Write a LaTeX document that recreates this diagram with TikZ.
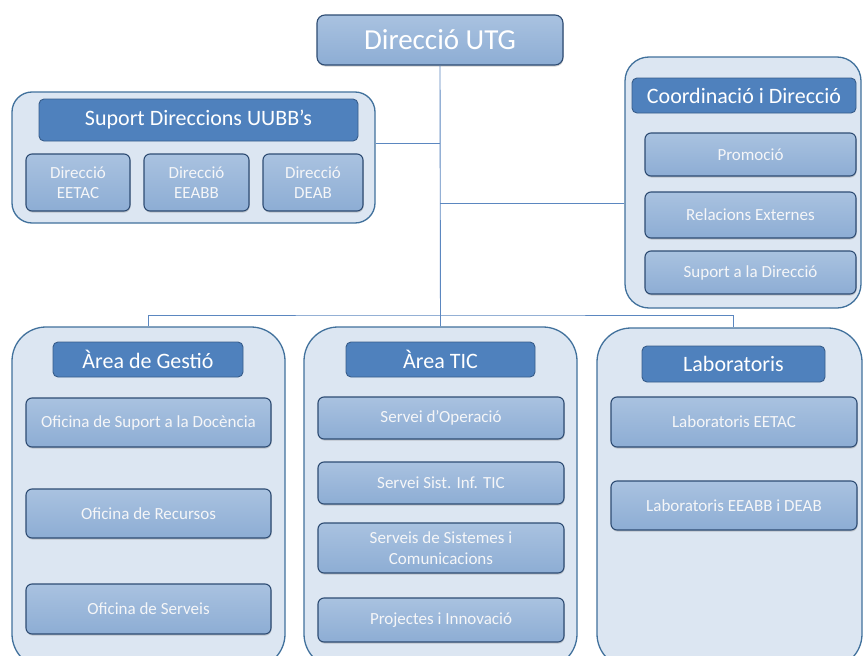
\documentclass[tikz,border=0pt]{standalone}
\usepackage{fontspec}
\setmainfont{Carlito}
\usepackage{tikz}
\usetikzlibrary{positioning,shadows}

\definecolor{groupfill}{HTML}{DCE6F2}
\definecolor{groupline}{HTML}{41719C}
\definecolor{headfill}{HTML}{4F81BD}
\definecolor{headline}{HTML}{385D8A}
\definecolor{unittop}{HTML}{A9C2E0}
\definecolor{unitbot}{HTML}{8DADD4}
\definecolor{unitline}{HTML}{2E4C73}
\definecolor{linkc}{HTML}{5B87C0}

\begin{document}
\begin{tikzpicture}[x=1pt,y=-1pt,
                    group/.style={draw=groupline, fill=groupfill, line width=1.3pt, inner sep=0pt},
                    header/.style={draw=headline, fill=headfill, line width=0.9pt, rounded corners=5pt,
                                   text=white, inner sep=0pt, font=\fontsize{22}{26}\selectfont},
                    unit/.style={draw=unitline, line width=1.1pt, top color=unittop, bottom color=unitbot,
                                 rounded corners=6pt, text=white!95!unitline, inner sep=0pt, align=center,
                                 drop shadow={opacity=0.35, shadow xshift=0.5pt, shadow yshift=-1.5pt},
                                 font=\fontsize{17}{20.5}\selectfont},
                    link/.style={draw=linkc, line width=0.9pt},
                   ]

\useasboundingbox (0,0) rectangle (863,656);
\fill[white] (0,0) rectangle (863,656);
\clip (0,0) rectangle (863,656);

% top
\node[unit, rounded corners=8pt, minimum width=246pt, minimum height=50pt, text=white,
      font=\fontsize{29}{33}\selectfont] (utg) at (440,40) {Direcció UTG};

% support of the schools
\node[group, rounded corners=20pt, minimum width=363pt, minimum height=131pt] (suport) at (193.5,157.5) {};
\node[header, minimum width=319pt, minimum height=42pt] (suporthd) at (198.5,120) {Suport Direccions UUBB’s};
\node[unit, minimum width=104pt, minimum height=57pt] (eetac) at (78,182.5) {Direcció\\EETAC};
\node[unit, minimum width=105pt, minimum height=57pt] (eeabb) at (196.5,182.5) {Direcció\\EEABB};
\node[unit, minimum width=100pt, minimum height=57pt] (deab) at (313,182.5) {Direcció\\DEAB};

% coordination
\node[group, rounded corners=24pt, minimum width=236pt, minimum height=251pt] (coord) at (743,182.5) {};
\node[header, minimum width=224pt, minimum height=35pt] (coordhd) at (744,95.5) {Coordinació i Direcció};
\node[unit, minimum width=211pt, minimum height=43pt] (promo) at (750.5,154.5) {Promoció};
\node[unit, minimum width=211pt, minimum height=46pt] (relac) at (750.5,215) {Relacions Externes};
\node[unit, minimum width=211pt, minimum height=43pt] (supdir) at (750.5,272.5) {Suport a la Direcció};

% areas
\node[group, rounded corners=34pt, minimum width=273pt, minimum height=341pt] (gestio) at (148.5,497.5) {};
\node[header, minimum width=190pt, minimum height=35pt] (gestiohd) at (148,359.5) {Àrea de Gestió};
\node[unit, minimum width=245pt, minimum height=49pt] (docencia) at (148.5,422.5) {Oficina de Suport a la Docència};
\node[unit, minimum width=245pt, minimum height=49pt] (recursos) at (148.5,513.5) {Oficina de Recursos};
\node[unit, minimum width=245pt, minimum height=50pt] (serveis) at (148.5,609) {Oficina de Serveis};

\node[group, rounded corners=34pt, minimum width=273pt, minimum height=341pt] (tic) at (440.5,497.5) {};
\node[header, minimum width=189pt, minimum height=35pt] (tichd) at (440.5,359.5) {Àrea TIC};
\node[unit, minimum width=246pt, minimum height=42pt] (operacio) at (441,418) {Servei d’Operació};
\node[unit, minimum width=246pt, minimum height=42pt] (sistinf) at (441,483) {Servei Sist. Inf. TIC};
\node[unit, minimum width=246pt, minimum height=50pt] (sistcom) at (441,548) {Serveis de Sistemes i\\Comunicacions};
\node[unit, minimum width=246pt, minimum height=44pt] (innova) at (441,620) {Projectes i Innovació};

\node[group, rounded corners=34pt, minimum width=265pt, minimum height=340pt] (lab) at (729.5,498) {};
\node[header, minimum width=183pt, minimum height=36pt] (labhd) at (733.5,364) {Laboratoris};
\node[unit, minimum width=246pt, minimum height=50pt] (labeetac) at (734,422) {Laboratoris EETAC};
\node[unit, minimum width=246pt, minimum height=49pt] (labeeabb) at (734,505.5) {Laboratoris EEABB i DEAB};

% connectors
\coordinate (bus) at (440,315);
\draw[link] (utg.south) -- (tic.north);
\draw[link] (gestio.north) |- (bus) -| ([xshift=4pt]lab.north);
\draw[link] ([yshift=14.5pt]suport.east) -- ([yshift=14.5pt]suport.east -| utg.south);
\draw[link] ([yshift=-20.5pt]coord.west) -- ([yshift=-20.5pt]coord.west -| utg.south);

\end{tikzpicture}
\end{document}
